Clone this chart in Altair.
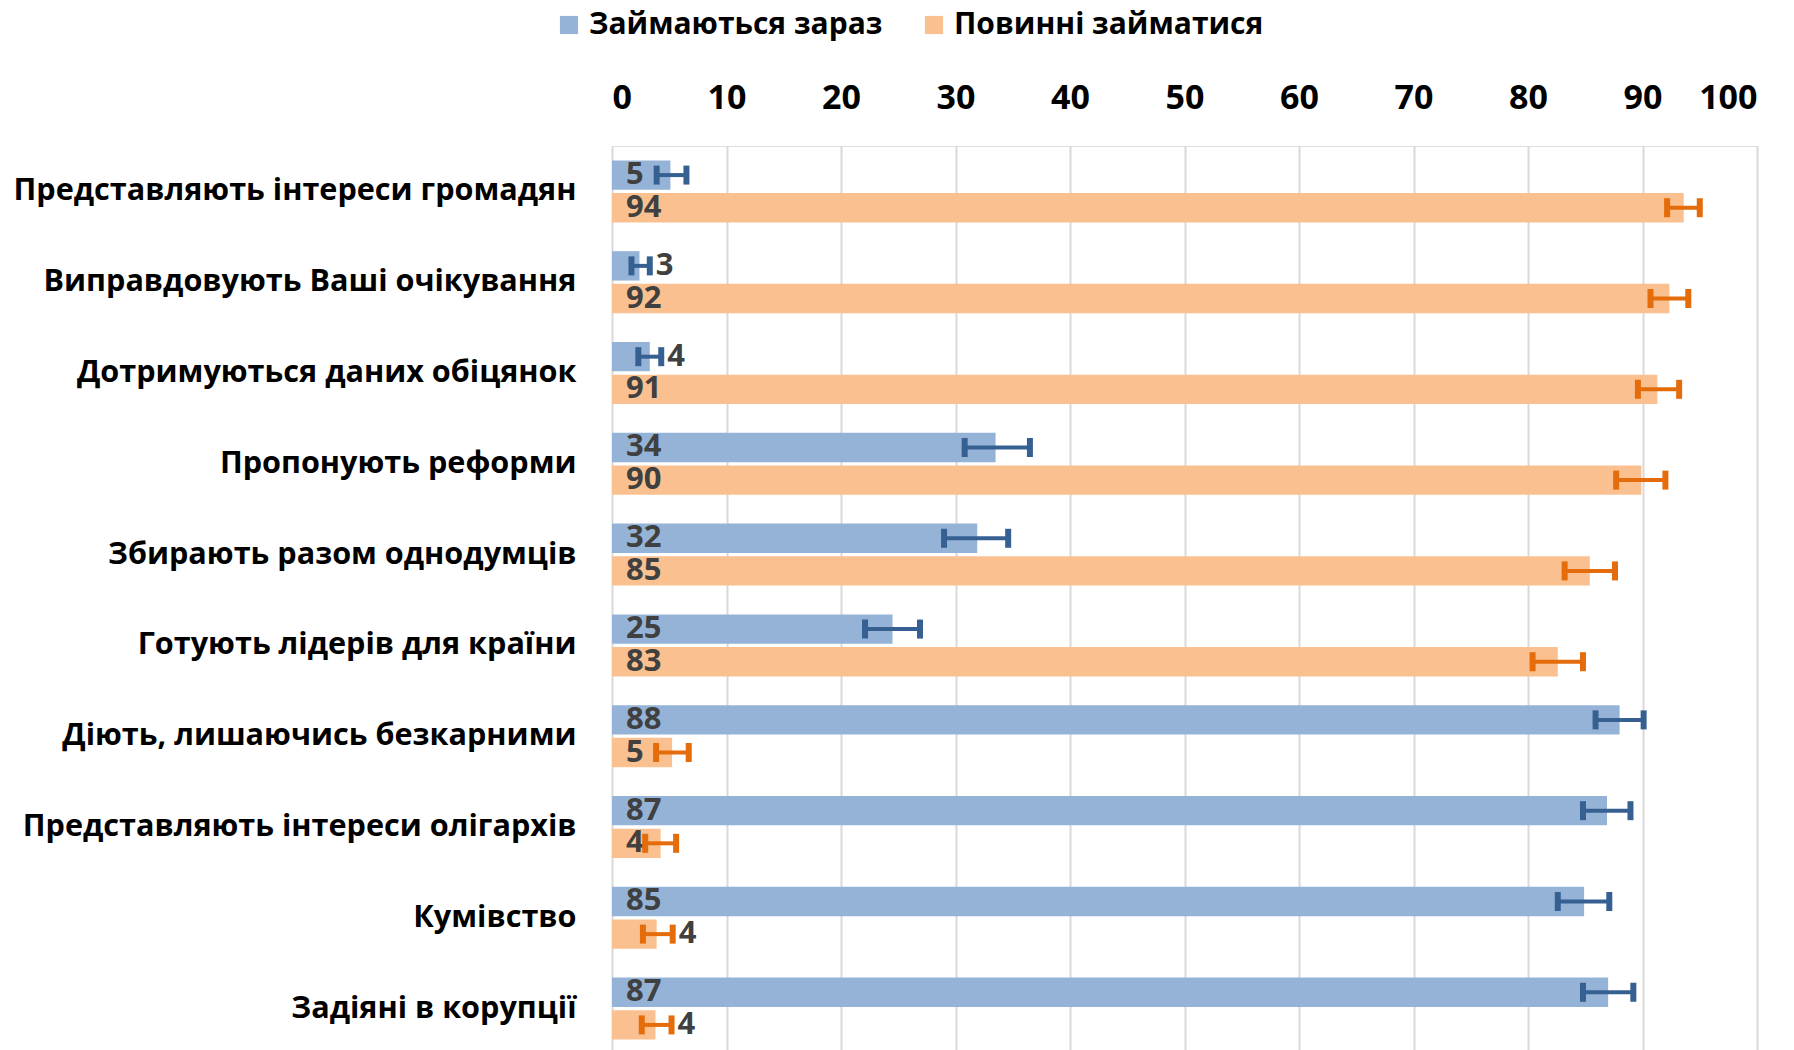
import altair as alt
import pandas as pd

categories = [
    "Представляють інтереси громадян",
    "Виправдовують Ваші очікування",
    "Дотримуються даних обіцянок",
    "Пропонують реформи",
    "Збирають разом однодумців",
    "Готують лідерів для країни",
    "Діють, лишаючись безкарними",
    "Представляють інтереси олігархів",
    "Кумівство",
    "Задіяні в корупції",
]
series_names = ["Займаються зараз", "Повинні займатися"]

now_values = [5.1, 2.4, 3.3, 33.5, 31.9, 24.5, 88.0, 86.9, 84.9, 87.0]
now_low = [3.9, 1.7, 2.3, 30.8, 29.0, 22.1, 85.9, 84.8, 82.6, 84.8]
now_high = [6.5, 3.3, 4.3, 36.5, 34.6, 26.9, 90.1, 88.95, 87.1, 89.2]
now_labels = ["5", "3", "4", "34", "32", "25", "88", "87", "85", "87"]
now_label_place = ["base", "end", "end", "base", "base", "base", "base", "base", "base", "base"]

should_values = [93.6, 92.35, 91.3, 89.9, 85.4, 82.6, 5.25, 4.25, 3.9, 3.8]
should_low = [92.15, 90.7, 89.6, 87.7, 83.2, 80.4, 3.85, 2.9, 2.7, 2.6]
should_high = [95.0, 94.0, 93.2, 92.0, 87.6, 84.8, 6.7, 5.6, 5.3, 5.2]
should_labels = ["94", "92", "91", "90", "85", "83", "5", "4", "4", "4"]
should_label_place = ["base", "base", "base", "base", "base", "base", "base", "base", "end", "end"]

x_ticks = [0, 10, 20, 30, 40, 50, 60, 70, 80, 90, 100]

rows = []
for i, c in enumerate(categories):
    rows.append(dict(cat=c, series=series_names[0], value=now_values[i], lo=now_low[i],
                     hi=now_high[i], label=now_labels[i], place=now_label_place[i]))
    rows.append(dict(cat=c, series=series_names[1], value=should_values[i], lo=should_low[i],
                     hi=should_high[i], label=should_labels[i], place=should_label_place[i]))
df = pd.DataFrame(rows)

FONT = "Open Sans"
bar_colors = ["#95B3D7", "#FAC090"]
err_colors = ["#366092", "#E46C0A"]

y_enc = alt.Y("cat:N", sort=categories,
              scale=alt.Scale(paddingInner=0.317, paddingOuter=0.1585),
              axis=alt.Axis(title=None, labelFontSize=30.6, labelFontWeight="bold",
                            labelColor="black", labelFont=FONT, labelPadding=36,
                            ticks=False, domain=False, labelLimit=900, grid=False))
yoff = alt.YOffset("series:N", sort=series_names,
                   scale=alt.Scale(paddingInner=0.1, paddingOuter=0))
x_scale = alt.Scale(domain=[0, 100], nice=False)
x_axis = alt.Axis(orient="top", values=x_ticks, title=None, labelFontSize=34,
                  labelFontWeight="bold", labelColor="black", labelFont=FONT,
                  grid=True, gridColor="#D9D9D9", gridWidth=2, ticks=False,
                  domain=False, labelPadding=31)

base = alt.Chart(df)

bars = base.mark_bar().encode(
    x=alt.X("value:Q", scale=x_scale, axis=x_axis),
    y=y_enc,
    yOffset=yoff,
    color=alt.Color("series:N", sort=series_names,
                    scale=alt.Scale(domain=series_names, range=bar_colors),
                    legend=alt.Legend(title=None, orient="none", direction="horizontal",
                                      legendX=-58, legendY=-136, labelFontSize=30,
                                      labelFont=FONT, labelFontWeight="bold",
                                      labelColor="black", symbolType="square",
                                      symbolSize=330, symbolStrokeWidth=0,
                                      columnPadding=36, labelOffset=5, labelLimit=1000)),
)

text_style = dict(baseline="middle", align="left", fontSize=31, fontWeight="bold",
                  font=FONT, color="#404040")

text_base = base.transform_filter(alt.datum.place == "base").mark_text(dx=14, **text_style).encode(
    x=alt.datum(0),
    y=alt.Y("cat:N", sort=categories),
    yOffset=yoff,
    text="label:N",
)
text_end = base.transform_filter(alt.datum.place == "end").mark_text(dx=6, **text_style).encode(
    x=alt.X("hi:Q"),
    y=alt.Y("cat:N", sort=categories),
    yOffset=yoff,
    text="label:N",
)

err_color = alt.Color("series:N", sort=series_names,
                      scale=alt.Scale(domain=series_names, range=err_colors), legend=None)

err_line = base.mark_rule(strokeWidth=4).encode(
    x=alt.X("lo:Q"),
    x2="hi:Q",
    y=alt.Y("cat:N", sort=categories),
    yOffset=yoff,
    color=err_color,
)
err_caps = base.transform_fold(["lo", "hi"], as_=["end", "xv"]).mark_tick(
    thickness=6, size=19, opacity=1).encode(
    x=alt.X("xv:Q"),
    y=alt.Y("cat:N", sort=categories),
    yOffset=yoff,
    color=err_color,
)

chart = alt.layer(bars, text_base, text_end, err_line, err_caps).resolve_scale(
    color="independent"
).properties(
    width=1145, height=908,
    padding={"left": 5, "top": 2, "right": 20, "bottom": 0},
).configure_view(stroke=None).configure(background="white")

chart.save("out.html", embed_options={"renderer": "svg", "actions": False})
